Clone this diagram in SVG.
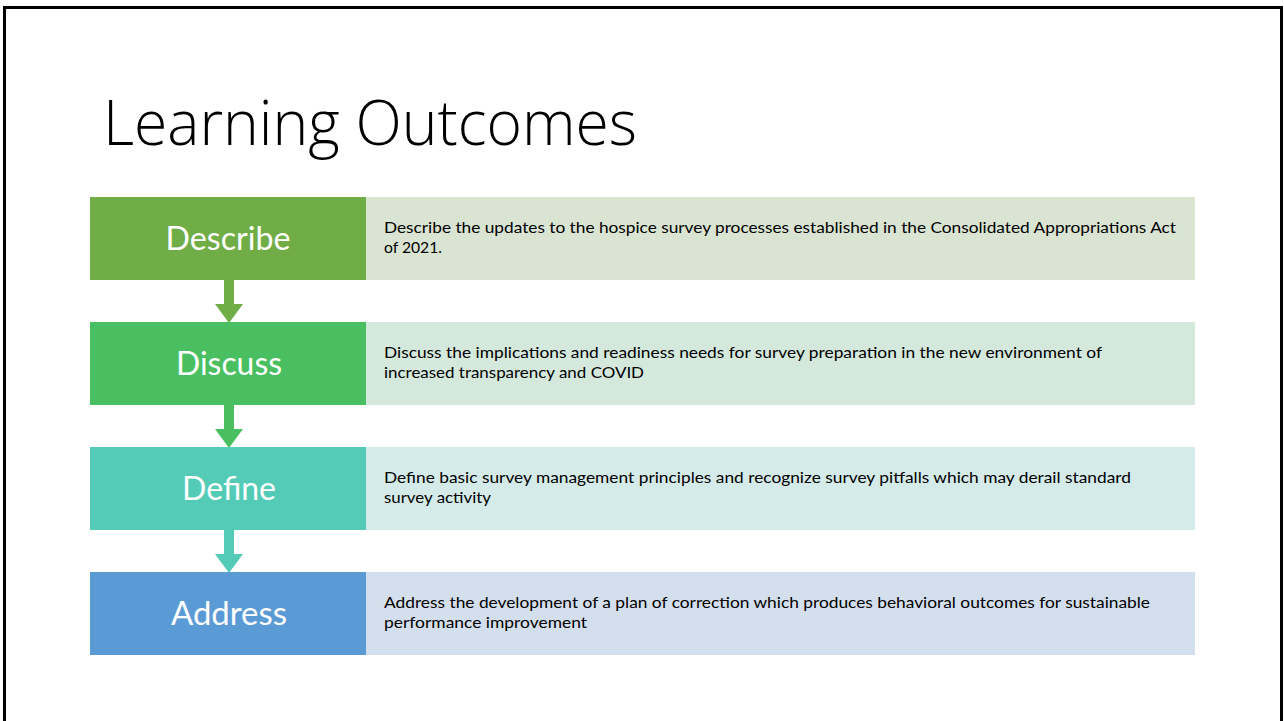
<svg xmlns="http://www.w3.org/2000/svg" width="1284" height="721" viewBox="0 0 1284 721">
  <style>
    .title { font-family: "Open Sans", "Lato", "Liberation Sans", sans-serif; font-weight: 300; font-size: 63px; fill: #000000; }
    .label { font-family: "Lato", "Open Sans", "Liberation Sans", sans-serif; font-size: 32px; fill: #ffffff; text-anchor: middle; }
    .desc { font-family: "Lato", "Open Sans", "Liberation Sans", sans-serif; font-size: 15px; fill: #000000; }
  </style>
  <rect x="0" y="0" width="1284" height="721" fill="#ffffff"/>
  <!-- slide frame -->
  <rect x="4.5" y="7.5" width="1277" height="740" fill="#ffffff" stroke="#000000" stroke-width="3"/>

  <text class="title" x="103" y="145" textLength="534" lengthAdjust="spacingAndGlyphs">Learning Outcomes</text>

  <!-- connectors between steps -->
  <g id="connectors">
    <path d="M224 280 H234 V304 H243 L229 323 L215 304 H224 Z" fill="#70AD47"/>
    <path d="M224 405 H234 V429 H243 L229 448 L215 429 H224 Z" fill="#4ABF62"/>
    <path d="M224 530 H234 V554 H243 L229 573 L215 554 H224 Z" fill="#53CBB6"/>
  </g>

  <g id="describe">
    <rect x="366" y="197" width="829" height="83" fill="#D9E4D3"/>
    <rect x="90" y="197" width="276" height="83" fill="#70AD47"/>
    <text class="label" x="228" y="250" textLength="125" lengthAdjust="spacingAndGlyphs">Describe</text>
    <text class="desc" x="384" y="233" textLength="792" lengthAdjust="spacingAndGlyphs">Describe the updates to the hospice survey processes established in the Consolidated Appropriations Act</text>
    <text class="desc" x="384" y="253" textLength="58" lengthAdjust="spacingAndGlyphs">of 2021.</text>
  </g>

  <g id="discuss">
    <rect x="366" y="322" width="829" height="83" fill="#D4E8DC"/>
    <rect x="90" y="322" width="276" height="83" fill="#4ABF62"/>
    <text class="label" x="229" y="375" textLength="106" lengthAdjust="spacingAndGlyphs">Discuss</text>
    <text class="desc" x="384" y="358" textLength="718" lengthAdjust="spacingAndGlyphs">Discuss the implications and readiness needs for survey preparation in the new environment of</text>
    <text class="desc" x="384" y="378" textLength="260" lengthAdjust="spacingAndGlyphs">increased transparency and COVID</text>
  </g>

  <g id="define">
    <rect x="366" y="447" width="829" height="83" fill="#D4EBEA"/>
    <rect x="90" y="447" width="276" height="83" fill="#53CBB6"/>
    <text class="label" x="229" y="500" textLength="94" lengthAdjust="spacingAndGlyphs">Define</text>
    <text class="desc" x="384" y="483" textLength="747" lengthAdjust="spacingAndGlyphs">Define basic survey management principles and recognize survey pitfalls which may derail standard</text>
    <text class="desc" x="384" y="503" textLength="107" lengthAdjust="spacingAndGlyphs">survey activity</text>
  </g>

  <g id="address">
    <rect x="366" y="572" width="829" height="83" fill="#D4DFED"/>
    <rect x="90" y="572" width="276" height="83" fill="#5B9BD5"/>
    <text class="label" x="229" y="625" textLength="116" lengthAdjust="spacingAndGlyphs">Address</text>
    <text class="desc" x="384" y="608" textLength="766" lengthAdjust="spacingAndGlyphs">Address the development of a plan of correction which produces behavioral outcomes for sustainable</text>
    <text class="desc" x="384" y="628" textLength="203" lengthAdjust="spacingAndGlyphs">performance improvement</text>
  </g>
</svg>
